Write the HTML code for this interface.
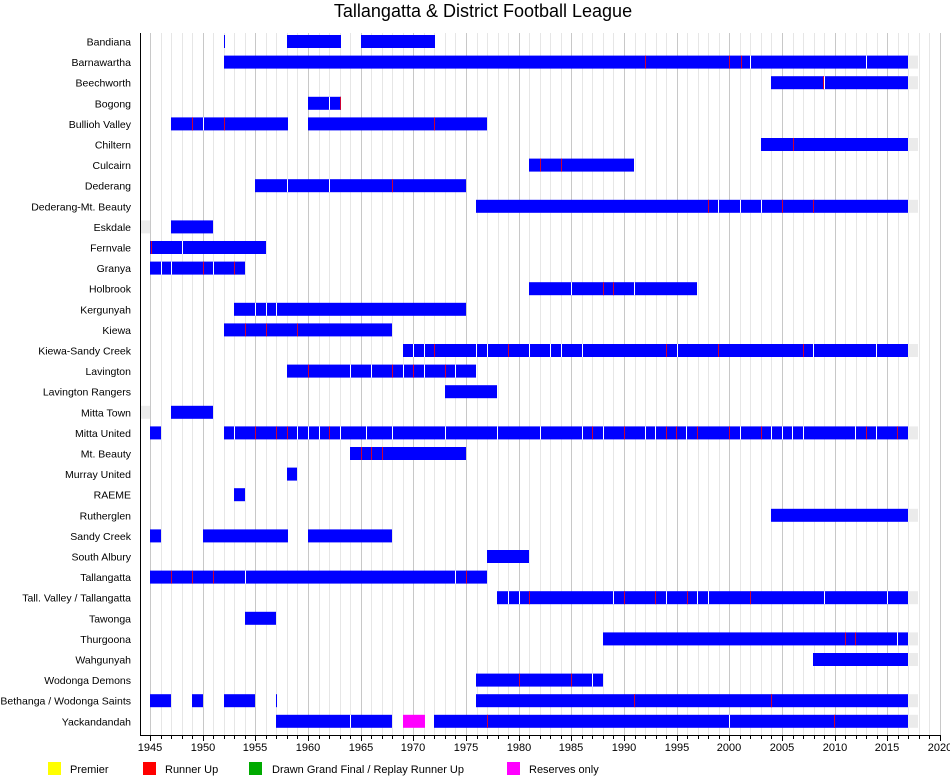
<!DOCTYPE html>
<html><head><meta charset="utf-8"><style>
body{margin:0;background:#fff;}
svg{display:block;font-family:"Liberation Sans",sans-serif;}
</style></head><body>
<svg id="s" width="950" height="780" xmlns="http://www.w3.org/2000/svg">
<g id="grid"></g>
<g id="bars"></g>
<text x="483" y="17" font-size="18" text-anchor="middle">Tallangatta &amp; District Football League</text>
<g font-size="10.5" text-anchor="end">
<text x="131" y="45.5">Bandiana</text>
<text x="131" y="66.1">Barnawartha</text>
<text x="131" y="86.7">Beechworth</text>
<text x="131" y="107.3">Bogong</text>
<text x="131" y="127.9">Bullioh Valley</text>
<text x="131" y="148.5">Chiltern</text>
<text x="131" y="169.1">Culcairn</text>
<text x="131" y="189.7">Dederang</text>
<text x="131" y="210.3">Dederang-Mt. Beauty</text>
<text x="131" y="230.9">Eskdale</text>
<text x="131" y="251.5">Fernvale</text>
<text x="131" y="272.1">Granya</text>
<text x="131" y="292.7">Holbrook</text>
<text x="131" y="313.3">Kergunyah</text>
<text x="131" y="333.9">Kiewa</text>
<text x="131" y="354.5">Kiewa-Sandy Creek</text>
<text x="131" y="375.1">Lavington</text>
<text x="131" y="395.7">Lavington Rangers</text>
<text x="131" y="416.3">Mitta Town</text>
<text x="131" y="436.9">Mitta United</text>
<text x="131" y="457.5">Mt. Beauty</text>
<text x="131" y="478.1">Murray United</text>
<text x="131" y="498.7">RAEME</text>
<text x="131" y="519.3">Rutherglen</text>
<text x="131" y="539.9">Sandy Creek</text>
<text x="131" y="560.5">South Albury</text>
<text x="131" y="581.1">Tallangatta</text>
<text x="131" y="601.7">Tall. Valley / Tallangatta</text>
<text x="131" y="622.3">Tawonga</text>
<text x="131" y="642.9">Thurgoona</text>
<text x="131" y="663.5">Wahgunyah</text>
<text x="131" y="684.1">Wodonga Demons</text>
<text x="131" y="704.7">Bethanga / Wodonga Saints</text>
<text x="131" y="725.3">Yackandandah</text>
</g>
<g font-size="11" text-anchor="middle">
<text x="150" y="751">1945</text><text x="203" y="751">1950</text><text x="255" y="751">1955</text><text x="308" y="751">1960</text><text x="361" y="751">1965</text><text x="413" y="751">1970</text><text x="466" y="751">1975</text><text x="519" y="751">1980</text><text x="571" y="751">1985</text><text x="624" y="751">1990</text><text x="677" y="751">1995</text><text x="729" y="751">2000</text><text x="782" y="751">2005</text><text x="835" y="751">2010</text><text x="887" y="751">2015</text><text x="940" y="751">2020</text>
</g>
<g font-size="11">
<rect x="48" y="762" width="13" height="13" fill="#ffff00"/><text x="70" y="773">Premier</text>
<rect x="143" y="762" width="13" height="13" fill="#ff0000"/><text x="165" y="773">Runner Up</text>
<rect x="249" y="762" width="13" height="13" fill="#00aa00"/><text x="272" y="773">Drawn Grand Final / Replay Runner Up</text>
<rect x="507" y="762" width="13" height="13" fill="#ff00ff"/><text x="529" y="773">Reserves only</text>
</g>
<line x1="140.5" y1="33" x2="140.5" y2="735" stroke="#000"/>
<line x1="140" y1="735.5" x2="941" y2="735.5" stroke="#000"/>
<g id="ticks"></g>
</svg>
<script>
var NS="http://www.w3.org/2000/svg";
function el(p,t,a){var e=document.createElementNS(NS,t);for(var k in a)e.setAttribute(k,a[k]);document.getElementById(p).appendChild(e);}
for(var y=1945;y<=2020;y++){var x=Math.round(150+(y-1945)*10.533)+0.5;
 el("grid","line",{x1:x,y1:33,x2:x,y2:735,stroke:(y%5==0)?"#c8c8c8":"#e6e6e6"});
 el("ticks","line",{x1:x,y1:735,x2:x,y2:(y%5==0)?741:739,stroke:"#000"});}
var R=[
[[[224,225],[287,341],[361,435]],[],[],0,0],
[[[224,908]],[750,866],[645,729,741],1,0],
[[[771,908]],[824],[823],1,0],
[[[308,341]],[329],[340],0,0],
[[[171,288],[308,487]],[203],[192,224,434],0,0],
[[[761,908]],[],[793],1,0],
[[[529,634]],[],[540,561],0,0],
[[[255,466]],[287,329],[392],0,0],
[[[476,908]],[718,740,761],[708,782,813],1,0],
[[[171,213]],[],[],0,1],
[[[150,266]],[182],[151],0,0],
[[[150,245]],[161,171,213],[203,234],0,0],
[[[529,697]],[571,634],[603,613],0,0],
[[[234,466]],[255,266,276],[],0,0],
[[[224,392]],[],[245,266,297],0,0],
[[[403,908]],[413,424,476,487,529,550,561,582,677,813,876],[434,508,666,718,803],1,0],
[[[287,476]],[350,371,403,424,455],[308,392,413,445],0,0],
[[[445,497]],[],[],0,0],
[[[171,213]],[],[],0,1],
[[[150,161],[224,908]],[234,297,308,319,340,366,392,445,497,540,582,603,645,655,686,740,771,782,792,803,855,876],[255,276,287,329,592,624,666,676,697,729,761,866,897],1,0],
[[[350,466]],[],[361,371,382],0,0],
[[[287,297]],[],[],0,0],
[[[234,245]],[],[],0,0],
[[[771,908]],[],[],1,0],
[[[150,161],[203,288],[308,392]],[],[],0,0],
[[[487,529]],[],[],0,0],
[[[150,487]],[245,455],[171,192,213,466],0,0],
[[[497,908]],[508,519,613,666,697,708,824,887],[529,624,655,687,750],1,0],
[[[245,276]],[],[],0,0],
[[[603,908]],[897],[845,855],1,0],
[[[813,908]],[],[],1,0],
[[[476,603]],[592],[519,571],0,0],
[[[150,171],[192,203],[224,255],[276,277],[476,908]],[],[634,771],1,0],
[[[276,392],[434,908]],[350,729],[487,834],1,0]
];
R.forEach(function(r,i){var yc=41.5+i*20.6,y0=yc-6.5;
 if(r[3])el("bars","rect",{x:908,y:y0,width:10,height:13,fill:"#ebebeb"});
 if(r[4])el("bars","rect",{x:141,y:y0,width:9,height:13,fill:"#ebebeb"});
 r[0].forEach(function(s){el("bars","rect",{x:s[0],y:y0,width:s[1]-s[0],height:13,fill:"#0000ff"});});
 r[1].forEach(function(x){el("bars","rect",{x:x,y:y0,width:1,height:13,fill:"#ffffff"});});
 r[2].forEach(function(x){el("bars","rect",{x:x,y:y0,width:1,height:13,fill:"#cc0033"});});
 if(i==33)el("bars","rect",{x:403,y:y0,width:22,height:13,fill:"#ff00ff"});
});
</script>
</body></html>
